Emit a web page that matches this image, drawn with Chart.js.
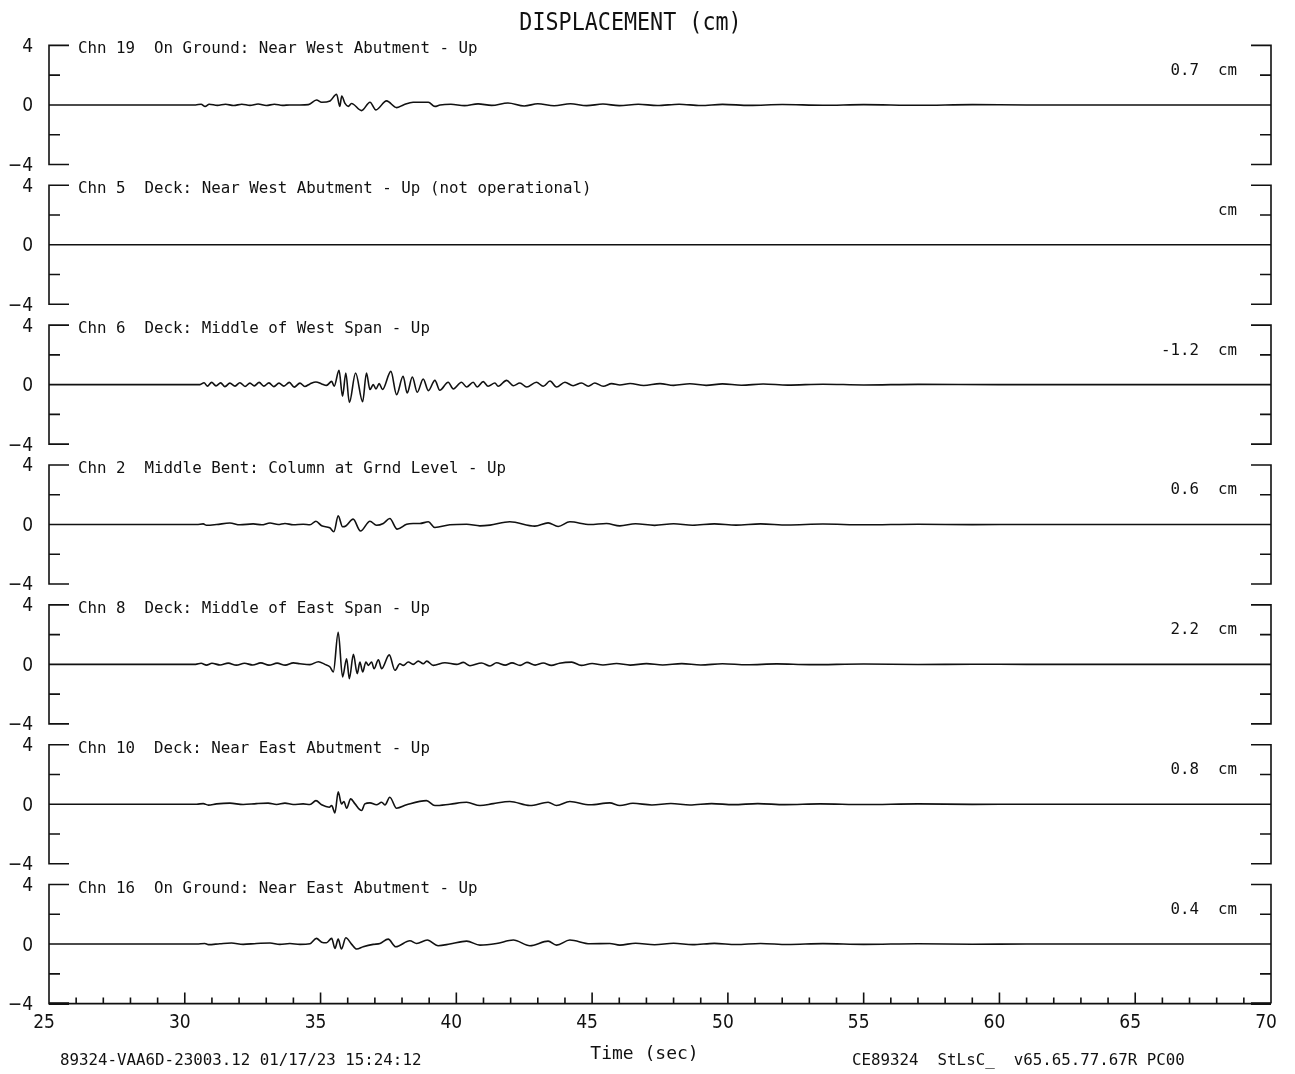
<!DOCTYPE html>
<html><head><meta charset="utf-8">
<script src="https://cdn.jsdelivr.net/npm/chart.js@4/dist/chart.umd.min.js"></script>
<style>html,body{margin:0;padding:0;background:#fff;overflow:hidden}#wrap{position:relative;width:1295px;height:1074px;background:#fff}</style>
</head><body><div id="wrap"><canvas id="c" width="1295" height="1074"></canvas></div>
<script>
// ---------------- data (time sec, displacement cm) ----------------
const chartTitle = 'DISPLACEMENT (cm)';
const xAxisTitle = 'Time (sec)';
const footerLeft = '89324-VAA6D-23003.12 01/17/23 15:24:12';
const footerRight = 'CE89324  StLsC_  v65.65.77.67R PC00';
const xTickValues = [25, 30, 35, 40, 45, 50, 55, 60, 65, 70];
const xTickLabels = ['25', '30', '35', '40', '45', '50', '55', '60', '65', '70'];
const yTickValues = [-4, 0, 4];
const yTickLabels = ['\u22124', '0', '4'];
const panelTitles = [
  'Chn 19  On Ground: Near West Abutment - Up',
  'Chn 5  Deck: Near West Abutment - Up (not operational)',
  'Chn 6  Deck: Middle of West Span - Up',
  'Chn 2  Middle Bent: Column at Grnd Level - Up',
  'Chn 8  Deck: Middle of East Span - Up',
  'Chn 10  Deck: Near East Abutment - Up',
  'Chn 16  On Ground: Near East Abutment - Up'
];
const peakLabels = ['0.7  cm', 'cm', '-1.2  cm', '0.6  cm', '2.2  cm', '0.8  cm', '0.4  cm'];

const chn19 = [[25,0],[30.4,0],[30.6,0.05],[30.75,-0.1],[30.9,0.05],[31.2,-0.03],[31.5,0.05],[31.8,-0.04],[32.1,0.05],[32.4,-0.03],[32.7,0.06],[33.0,-0.04],[33.3,0.05],[33.6,-0.03],[33.87,0],[34.24,0],[34.55,0.02],[34.85,0.33],[35.04,0.18],[35.35,0.27],[35.59,0.72],[35.71,-0.1],[35.78,0.6],[35.9,0.1],[36.02,-0.1],[36.14,0.1],[36.51,-0.38],[36.82,0.18],[37.04,-0.33],[37.43,0.27],[37.8,-0.18],[38.05,0],[38.41,0.18],[38.97,0.18],[39.21,-0.1],[39.4,0],[39.8,0.05],[40.3,-0.05],[40.8,0.07],[41.3,-0.03],[41.9,0.13],[42.5,-0.07],[43.0,0.08],[43.6,-0.06],[44.2,0.08],[44.8,-0.05],[45.4,0.06],[46.0,-0.05],[46.7,0.05],[47.4,-0.04],[48.2,0.05],[49.0,-0.04],[49.8,0.04],[50.8,-0.03],[52,0.03],[53.5,-0.02],[55,0.02],[57,-0.02],[59,0.02],[61,0],[70,0]];
const chn5 = [[25,0],[70,0]];
const chn6 = [[25,0],[30.19,0],[30.56,0],[30.71,0.13],[30.83,-0.1],[30.99,0.15],[31.15,-0.08],[31.32,0.12],[31.48,-0.13],[31.66,0.1],[31.85,-0.1],[32.03,0.13],[32.22,-0.12],[32.4,0.1],[32.56,-0.08],[32.74,0.15],[32.91,-0.1],[33.1,0.12],[33.28,-0.13],[33.47,0.1],[33.65,-0.1],[33.85,0.15],[34.03,-0.17],[34.24,0.1],[34.42,-0.12],[34.61,0.05],[34.83,0.18],[35.04,0.05],[35.22,-0.05],[35.41,0.22],[35.5,-0.11],[35.68,0.96],[35.81,-0.78],[35.93,0.78],[36.06,-1.2],[36.29,0.78],[36.55,-1.15],[36.69,0.78],[36.82,-0.33],[36.94,0],[37.04,-0.29],[37.16,0.07],[37.28,-0.33],[37.59,0.89],[37.8,-0.67],[38.04,0.56],[38.19,-0.56],[38.38,0.51],[38.56,-0.51],[38.78,0.38],[38.97,-0.4],[39.21,0.29],[39.39,-0.38],[39.7,0.16],[39.89,-0.29],[40.19,0.16],[40.38,-0.16],[40.62,0.16],[40.77,-0.16],[40.99,0.2],[41.17,-0.11],[41.42,0.11],[41.54,-0.11],[41.85,0.29],[42.1,-0.07],[42.34,0.11],[42.59,-0.16],[42.95,0.16],[43.2,-0.11],[43.45,0.24],[43.69,-0.16],[44.0,0.16],[44.3,-0.07],[44.61,0.11],[44.86,-0.11],[45.1,0.11],[45.41,-0.11],[45.72,0.07],[46.02,-0.02],[46.4,0.08],[46.9,-0.06],[47.5,0.07],[48.0,-0.05],[48.6,0.06],[49.2,-0.05],[49.8,0.05],[50.5,-0.04],[51.3,0.04],[52.2,-0.03],[53.5,0.03],[55,-0.02],[57,0.02],[60,0],[70,0]];
const chn2 = [[25,0],[30.19,0],[30.44,0],[30.68,0.04],[30.8,-0.05],[31.17,0],[31.66,0.1],[32.03,-0.02],[32.52,0.04],[32.83,-0.02],[33.14,0.1],[33.44,0],[33.69,0.07],[33.99,-0.02],[34.36,0.02],[34.61,-0.02],[34.83,0.22],[35.04,-0.09],[35.34,-0.22],[35.49,-0.49],[35.65,0.58],[35.81,-0.15],[35.93,-0.1],[36.2,0.36],[36.47,-0.44],[36.82,0.22],[37.06,-0.05],[37.31,0.07],[37.55,0.4],[37.82,-0.31],[38.17,0.02],[38.41,0.07],[38.66,0.07],[38.97,0.18],[39.21,-0.2],[39.76,-0.02],[40.38,0.02],[40.87,-0.09],[41.24,-0.04],[41.97,0.18],[42.89,-0.11],[43.38,0.11],[43.75,-0.13],[44.18,0.18],[44.92,0],[45.53,0.07],[46.02,-0.09],[46.6,0.05],[47.3,-0.06],[48.0,0.05],[48.7,-0.05],[49.5,0.04],[50.3,-0.04],[51.2,0.04],[52.2,-0.03],[53.5,0.03],[55,-0.02],[57,0.02],[59,-0.01],[61,0],[70,0]];
const chn8 = [[25,0],[30.4,0],[30.6,0.07],[30.8,-0.05],[31.0,0.07],[31.3,-0.04],[31.6,0.08],[31.9,-0.05],[32.2,0.07],[32.5,-0.04],[32.8,0.1],[33.1,-0.05],[33.4,0.08],[33.7,-0.05],[34.0,0.1],[34.24,0.04],[34.61,-0.02],[34.92,0.18],[35.16,0],[35.35,-0.18],[35.47,-0.51],[35.65,2.16],[35.81,-0.84],[35.96,0.38],[36.06,-0.96],[36.21,0.67],[36.35,-0.62],[36.45,0.16],[36.55,-0.51],[36.67,0.16],[36.76,-0.07],[36.88,0.16],[36.97,-0.29],[37.13,0.31],[37.25,-0.29],[37.53,0.64],[37.74,-0.4],[37.92,0.04],[38.05,-0.07],[38.23,0.16],[38.41,0],[38.6,0.22],[38.78,0.04],[38.91,0.22],[39.15,-0.07],[39.58,0.11],[40.01,0],[40.26,0.13],[40.5,-0.09],[40.93,0.09],[41.24,-0.11],[41.48,0.11],[41.8,-0.05],[42.05,0.1],[42.35,-0.07],[42.6,0.13],[42.9,-0.05],[43.2,0.09],[43.5,-0.07],[43.8,0.08],[44.25,0.15],[44.6,-0.07],[45.0,0.06],[45.4,-0.04],[45.9,0.06],[46.4,-0.05],[47.0,0.05],[47.6,-0.04],[48.3,0.05],[49.0,-0.04],[49.8,0.04],[50.7,-0.03],[51.8,0.03],[53,-0.02],[55,0.02],[57,-0.01],[59,0.01],[61,0],[70,0]];
const chn10 = [[25,0],[30.19,0],[30.44,0],[30.68,0.04],[30.87,-0.06],[31.17,0.02],[31.66,0.07],[32.15,-0.02],[32.64,0.04],[33.07,0.07],[33.38,-0.02],[33.69,0.07],[33.99,-0.02],[34.36,0.02],[34.61,-0.02],[34.83,0.24],[35.04,-0.04],[35.32,-0.2],[35.41,-0.09],[35.53,-0.58],[35.65,0.84],[35.77,0.02],[35.86,0.18],[35.96,-0.27],[36.11,0.36],[36.27,0.02],[36.51,-0.42],[36.63,0.02],[36.82,0.09],[37.06,-0.04],[37.25,0.13],[37.37,-0.05],[37.55,0.47],[37.8,-0.27],[38.17,-0.04],[38.9,0.24],[39.21,-0.09],[39.76,0],[40.38,0.13],[40.87,-0.09],[41.36,0.04],[41.97,0.18],[42.71,-0.09],[43.38,0.13],[43.69,-0.09],[44.18,0.18],[44.92,-0.04],[45.65,0.09],[46.02,-0.09],[46.5,0.06],[47.2,-0.05],[47.9,0.05],[48.6,-0.05],[49.4,0.04],[50.2,-0.03],[51.1,0.04],[52.1,-0.03],[53.4,0.02],[55,-0.02],[57,0.02],[59,-0.01],[61,0],[70,0]];
const chn16 = [[25,0],[30.19,0],[30.44,0],[30.74,0.04],[30.87,-0.04],[31.29,0.02],[31.72,0.07],[32.15,-0.02],[32.64,0.04],[33.14,0.07],[33.5,-0.02],[33.87,0.04],[34.24,-0.02],[34.61,0.02],[34.85,0.38],[35.04,0.13],[35.22,0.09],[35.41,0.38],[35.53,-0.29],[35.65,0.33],[35.77,-0.33],[35.93,0.42],[36.14,0],[36.33,-0.33],[36.57,-0.18],[36.94,-0.02],[37.19,0.04],[37.49,0.33],[37.77,-0.18],[38.29,0.22],[38.54,0.04],[38.93,0.27],[39.33,-0.11],[39.76,0],[40.38,0.2],[40.87,-0.07],[41.48,0.04],[42.1,0.27],[42.71,-0.11],[43.38,0.2],[43.69,-0.07],[44.18,0.27],[44.92,0.02],[45.65,0.04],[46.02,-0.07],[46.6,0.06],[47.3,-0.05],[48.0,0.06],[48.7,-0.04],[49.5,0.05],[50.3,-0.03],[51.2,0.04],[52.2,-0.03],[53.5,0.03],[55,-0.02],[57,0.02],[59,-0.01],[61,0],[70,0]];

const channelSeries = [chn19, chn5, chn6, chn2, chn8, chn10, chn16];

// ---------------- styles ----------------
const MONO = '"DejaVu Sans Mono", "Liberation Mono", monospace';
const COND = '"DejaVu Sans Condensed", "Liberation Sans Narrow", sans-serif';
const Y_RANGE = 4.7;

const framePlugin = {
  id: 'frames',
  beforeDatasetsDraw(chart) {
    const c = chart.ctx;
    const L = chart.chartArea.left, R = chart.chartArea.right;
    const xs = chart.scales.x;
    c.save();
    c.strokeStyle = '#111';
    c.lineWidth = 1.6;
    c.lineCap = 'butt';
    for (let i = 0; i < channelSeries.length; i++) {
      const ys = chart.scales['y' + i];
      const yT = ys.getPixelForValue(4), yB = ys.getPixelForValue(-4);
      const y2 = ys.getPixelForValue(2), ym2 = ys.getPixelForValue(-2);
      const last = i === channelSeries.length - 1;
      c.beginPath();
      c.moveTo(L + 20, yT); c.lineTo(L, yT); c.lineTo(L, yB); c.lineTo(last ? R : L + 20, yB);
      c.moveTo(L, y2); c.lineTo(L + 11, y2);
      c.moveTo(L, ym2); c.lineTo(L + 11, ym2);
      c.moveTo(R - 20, yT); c.lineTo(R, yT); c.lineTo(R, yB); if (!last) c.lineTo(R - 20, yB);
      c.moveTo(R, y2); c.lineTo(R - 11, y2);
      c.moveTo(R, ym2); c.lineTo(R - 11, ym2);
      c.stroke();
      if (last) {
        c.beginPath();
        for (let t = Math.ceil(xs.min) + 1; t < xs.max; t++) {
          const x = xs.getPixelForValue(t);
          const len = (t % 5 === 0) ? 11 : 6;
          c.moveTo(x, yB); c.lineTo(x, yB - len);
        }
        c.stroke();
        c.lineWidth = 2.6;
        c.beginPath();
        c.moveTo(L, yB); c.lineTo(L + 20, yB);
        c.moveTo(R - 20, yB); c.lineTo(R, yB);
        c.stroke();
      }
    }
    c.restore();
  },
  afterDraw(chart) {
    const c = chart.ctx;
    const L = chart.chartArea.left;
    c.save();
    c.fillStyle = '#111';
    c.textBaseline = 'alphabetic';
    for (let i = 0; i < channelSeries.length; i++) {
      const ys = chart.scales['y' + i];
      const yT = ys.getPixelForValue(4);
      c.font = '15.8px ' + MONO;
      c.textAlign = 'left';
      c.fillText(panelTitles[i], L + 29, yT + 8);
      c.textAlign = 'right';
      c.fillText(peakLabels[i], 1237, yT + 29.5);
    }
    // title
    c.save();
    c.translate(630.5, 29.5);
    c.scale(0.905, 1);
    c.font = '24px ' + MONO;
    c.textAlign = 'center';
    c.fillText(chartTitle, 0, 0);
    c.restore();
    // axis title
    c.font = '18px ' + MONO;
    c.textAlign = 'center';
    c.fillText(xAxisTitle, 644.5, 1059);
    // footers
    c.font = '15.8px ' + MONO;
    c.textAlign = 'left';
    c.fillText(footerLeft, 60, 1065);
    c.fillText(footerRight, 852, 1065);
    c.restore();
  }
};

const scales = {
  x: {
    type: 'linear', position: 'bottom', min: 25, max: 70,
    afterBuildTicks: s => { s.ticks = xTickValues.map(v => ({ value: v })); },
    afterFit: s => { s.height = 60; },
    grid: { display: false, drawTicks: false },
    border: { display: false },
    ticks: {
      callback: v => xTickLabels[xTickValues.indexOf(v)],
      font: { family: COND, size: 19 }, color: '#111',
      padding: -2, labelOffset: -5, maxRotation: 0, autoSkip: false
    }
  }
};
for (let i = channelSeries.length - 1; i >= 0; i--) {
  scales['y' + i] = {
    type: 'linear', position: 'left', stack: 'panels', stackWeight: 1,
    min: -Y_RANGE, max: Y_RANGE,
    afterBuildTicks: s => { s.ticks = yTickValues.map(v => ({ value: v })); },
    afterFit: s => { s.width = 49; },
    grid: { display: false, drawTicks: false },
    border: { display: false },
    ticks: {
      callback: v => yTickLabels[yTickValues.indexOf(v)],
      font: { family: COND, size: 19 }, color: '#111',
      padding: 16, labelOffset: 1.5, autoSkip: false
    }
  };
}

const datasets = channelSeries.map((series, i) => ({
  label: panelTitles[i],
  data: series.map(([x, y]) => ({ x, y })),
  xAxisID: 'x',
  yAxisID: 'y' + i,
  borderColor: '#111',
  borderWidth: 1.6,
  pointRadius: 0,
  fill: false,
  cubicInterpolationMode: 'monotone'
}));

new Chart(document.getElementById('c'), {
  type: 'line',
  data: { datasets },
  options: {
    responsive: false,
    animation: false,
    devicePixelRatio: 1,
    layout: { padding: { left: 0, right: 24, top: 35, bottom: 0 } },
    plugins: { legend: { display: false }, tooltip: { enabled: false }, title: { display: false } },
    scales
  },
  plugins: [framePlugin]
});
</script></body></html>
